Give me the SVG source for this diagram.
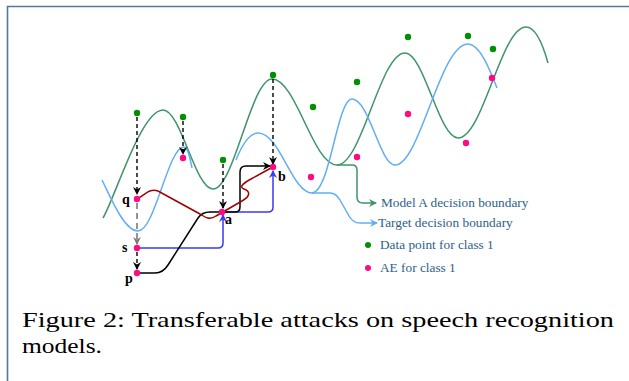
<svg xmlns="http://www.w3.org/2000/svg" width="629" height="381" viewBox="0 0 629 381">
<defs>
<style>
.g{fill:none;stroke:#3f9468;stroke-width:1.5}
.t{fill:none;stroke:#62aef5;stroke-width:1.5}
.d{fill:none;stroke:#000;stroke-width:1.4;stroke-dasharray:4 3}
.gd{fill:none;stroke:#7a7a7a;stroke-width:1.6;stroke-dasharray:6 4}
.bl{fill:none;stroke:#3a3af5;stroke-width:1.5}
.bk{fill:none;stroke:#000;stroke-width:1.5}
.rd{fill:none;stroke:#a00000;stroke-width:1.5}
.gp{fill:#009000}
.ae{fill:#ff0a80}
.lbl{font-family:"Liberation Serif","Times New Roman",serif;font-weight:bold;font-size:14px;fill:#000}
.leg{font-family:"Liberation Serif","Times New Roman",serif;font-size:13.3px;fill:#2d6188}
.cap{font-family:"Liberation Serif","Times New Roman",serif;font-size:22px;fill:#000}
</style>
<marker id="ak" viewBox="0 0 8 8" refX="7" refY="4" markerWidth="8" markerHeight="8" markerUnits="userSpaceOnUse" orient="auto"><path d="M0,0 L8,4 L0,8 L2.5,4 z" fill="#000"/></marker>
<marker id="agr" viewBox="0 0 8 8" refX="7" refY="4" markerWidth="8" markerHeight="8" markerUnits="userSpaceOnUse" orient="auto"><path d="M0,0 L8,4 L0,8 L2.5,4 z" fill="#7a7a7a"/></marker>
<marker id="abl" viewBox="0 0 8 8" refX="7" refY="4" markerWidth="8" markerHeight="8" markerUnits="userSpaceOnUse" orient="auto"><path d="M0,0 L8,4 L0,8 L2.5,4 z" fill="#3a3af5"/></marker>
<marker id="agn" viewBox="0 0 8 8" refX="7" refY="4" markerWidth="8" markerHeight="8" markerUnits="userSpaceOnUse" orient="auto"><path d="M0,0 L8,4 L0,8 L2.5,4 z" fill="#3f9468"/></marker>
<marker id="atg" viewBox="0 0 8 8" refX="7" refY="4" markerWidth="8" markerHeight="8" markerUnits="userSpaceOnUse" orient="auto"><path d="M0,0 L8,4 L0,8 L2.5,4 z" fill="#62aef5"/></marker>
</defs>
<rect width="629" height="381" fill="#fff"/>
<g id="frame" fill="none" stroke="#5877a0" stroke-width="1.6">
<path d="M629,6.5 H7.5 V381"/>
</g>
<g id="boundaries">
<path id="modelA" class="g" d="M103,218 C115,198 141,110 163,110 C181,110 195,189 213,189 C234,189 251,79 272,79 C296,79 313,165 337,165 C362,165 380,53 405,53 C424,53 439,138 458,138 C483,138 501,27 526,27 C536,27 543,45 548,63"/>
<path id="target1" class="t" d="M102,180 C110,196 124,231 138,231 C155,231 168,147 184,147 C188,147 190,158 192,168"/>
<path id="target2" class="t" d="M236,160 C242,145 250,133 258,133 C280,133 292,193 312,193 C330,193 337,99 352,99 C369,99 380,165 395,165 C420,165 440,44 468,44 C480,44 490,70 497,88"/>
</g>
<g id="connectors">
<path class="g" d="M337,165 H352 Q357,165 357,170 V197 Q357,203 363,203 H376" marker-end="url(#agn)"/>
<path class="t" d="M312,193 H330 Q336,193 340,200 L349,216 Q353,223 360,223 H377" marker-end="url(#atg)"/>
<path class="d" d="M137,117 V194" marker-end="url(#ak)"/>
<path class="d" d="M183,121 V154" marker-end="url(#ak)"/>
<path class="d" d="M223,164 V208" marker-end="url(#ak)"/>
<path class="d" d="M273,79 V164" marker-end="url(#ak)"/>
<path class="gd" d="M137,203 V244" marker-end="url(#agr)"/>
<path class="d" d="M137,252 V269" marker-end="url(#ak)"/>
<path class="bl" d="M137,248 H218 Q223,248 223,243 V215" marker-end="url(#abl)"/>
<path class="bl" d="M223,212 H268 Q273,212 273,207 V171" marker-end="url(#abl)"/>
<path class="bk" d="M140,273 H155 Q163,273 168,265 L198,218 Q202,212 210,212 H235 Q240,212 240,207 V172 Q240,166 246,166 H270" marker-end="url(#ak)"/>
<path class="rd" d="M137,199 C146,194 150,188 158,191 L200,214 C206,218 210,220 216,216 L242,201 C251,196 250,191 244,189 C238,187 245,182 251,179 L271,168"/>
</g>
<g id="data-points">
<circle class="gp" cx="137" cy="113" r="3.2"/>
<circle class="gp" cx="183" cy="117" r="3.2"/>
<circle class="gp" cx="223" cy="160" r="3.2"/>
<circle class="gp" cx="273" cy="75" r="3.2"/>
<circle class="gp" cx="313" cy="107" r="3.2"/>
<circle class="gp" cx="357" cy="82" r="3.2"/>
<circle class="gp" cx="408" cy="37" r="3.2"/>
<circle class="gp" cx="468" cy="36" r="3.2"/>
<circle class="gp" cx="493" cy="49" r="3.2"/>
</g>
<g id="aes">
<circle class="ae" cx="183" cy="158" r="3.2"/>
<circle class="ae" cx="311" cy="177" r="3.2"/>
<circle class="ae" cx="357" cy="157" r="3.2"/>
<circle class="ae" cx="408" cy="114" r="3.2"/>
<circle class="ae" cx="466" cy="143" r="3.2"/>
<circle class="ae" cx="492" cy="78" r="3.2"/>
</g>
<g id="node-q"><circle class="ae" cx="137" cy="199" r="3.2"/><text class="lbl" x="122" y="204">q</text></g>
<g id="node-s"><circle class="ae" cx="137" cy="248" r="3.2"/><text class="lbl" x="122" y="252">s</text></g>
<g id="node-p"><circle class="ae" cx="137" cy="273" r="3.2"/><text class="lbl" x="125" y="283">p</text></g>
<g id="node-a"><circle class="ae" cx="222" cy="212" r="3.2"/><text class="lbl" x="225" y="224">a</text></g>
<g id="node-b"><circle class="ae" cx="273" cy="167" r="3.2"/><text class="lbl" x="278" y="181">b</text></g>
<g id="legend">
<text class="leg" x="381" y="207">Model A decision boundary</text>
<text class="leg" x="378" y="227">Target decision boundary</text>
<circle class="gp" cx="368" cy="245" r="3"/>
<text class="leg" x="380" y="249">Data point for class 1</text>
<circle class="ae" cx="368" cy="268" r="3"/>
<text class="leg" x="380" y="272">AE for class 1</text>
</g>
<g id="caption">
<text class="cap" x="22" y="327" textLength="592" lengthAdjust="spacingAndGlyphs">Figure 2: Transferable attacks on speech recognition</text>
<text class="cap" x="22" y="353" textLength="80" lengthAdjust="spacingAndGlyphs">models.</text>
</g>
</svg>
